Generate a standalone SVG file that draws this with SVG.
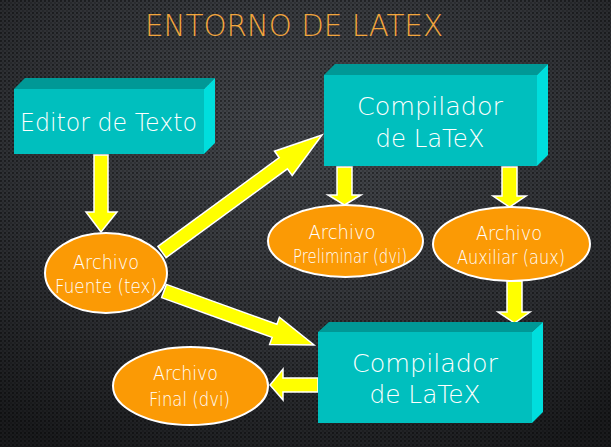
<svg xmlns="http://www.w3.org/2000/svg" width="611" height="447" viewBox="0 0 611 447">
<defs>
<radialGradient id="bg" cx="50%" cy="30%" r="80%">
<stop offset="0" stop-color="#46494e"/>
<stop offset="0.6" stop-color="#303236"/>
<stop offset="1" stop-color="#1a1b1d"/>
</radialGradient>
<pattern id="dots" width="4" height="4" patternUnits="userSpaceOnUse">
<circle cx="1" cy="1" r="1.1" fill="#000" fill-opacity="0.45"/>
<circle cx="3" cy="3" r="0.9" fill="#000" fill-opacity="0.25"/>
</pattern>
<style>
.front{fill:#00bfbe}
.top{fill:#009896}
.side{fill:#00dedd}
.ell{fill:#fb9a05;stroke:#ffffff;stroke-width:2}
.arr{fill:#ffff00;stroke:#ffffff;stroke-width:1.5;stroke-linejoin:miter}
.bt{font-family:"DejaVu Sans","Liberation Sans",sans-serif;font-weight:200;fill:#ffffff;font-size:25px;text-anchor:middle}
.et{font-family:"DejaVu Sans","Liberation Sans",sans-serif;font-weight:200;fill:#ffffff;font-size:19px;text-anchor:middle}
.title{font-family:"DejaVu Sans","Liberation Sans",sans-serif;font-weight:200;fill:#f2a53c;font-size:30px}
</style>
</defs>
<rect width="611" height="447" fill="url(#bg)"/>
<rect width="611" height="447" fill="url(#dots)"/>
<text class="title" x="145" y="36" textLength="298" lengthAdjust="spacingAndGlyphs">ENTORNO DE LATEX</text>

<g id="connectors">
<polygon class="arr" points="94,155 108,155 108,212 117,212 101,232 86,212 94,212"/>
<polygon class="arr" points="157.9,246.4 279.2,157.7 274.5,151.2 322,135 292.2,175.4 287.4,168.9 166.1,257.6"/>
<polygon class="arr" points="166.4,284.4 276.9,324.2 279.4,317.2 314,345 269.6,344.4 272.1,337.4 161.6,297.6"/>
<polygon class="arr" points="337,167 352,167 352,195 361,195 344.5,205 328,195 337,195"/>
<polygon class="arr" points="502,167 517,167 517,196 526,196 509.5,207 493,196 502,196"/>
<polygon class="arr" points="507,281 522,281 522,312 530,312 514.5,323 498,312 507,312"/>
<polygon class="arr" points="318,378 318,392 283,392 283,400 270,385 283,369 283,378"/>
</g>

<g id="editor">
<polygon class="top" points="14,89 25,78 215,78 204,89"/>
<polygon class="side" points="204,89 215,78 215,143 204,154"/>
<rect class="front" x="14" y="89" width="190" height="65"/>
<text class="bt" x="108.5" y="131" font-size="26" textLength="177" lengthAdjust="spacingAndGlyphs">Editor de Texto</text>
</g>

<g id="compilador1">
<polygon class="top" points="324,75 335,64 548,64 537,75"/>
<polygon class="side" points="537,75 548,64 548,155 537,166"/>
<rect class="front" x="324" y="75" width="213" height="91"/>
<text class="bt" x="430" y="115" textLength="146" lengthAdjust="spacingAndGlyphs">Compilador</text>
<text class="bt" x="430" y="147" textLength="109" lengthAdjust="spacingAndGlyphs">de LaTeX</text>
</g>

<g id="compilador2">
<polygon class="top" points="318,332 329,322 543,322 532,332"/>
<polygon class="side" points="532,332 543,322 543,412 532,423"/>
<rect class="front" x="318" y="332" width="214" height="91"/>
<text class="bt" x="425" y="372" textLength="146" lengthAdjust="spacingAndGlyphs">Compilador</text>
<text class="bt" x="425" y="403" textLength="111" lengthAdjust="spacingAndGlyphs">de LaTeX</text>
</g>

<g id="fuente">
<ellipse class="ell" cx="106" cy="273" rx="61" ry="40"/>
<text class="et" x="106" y="269" textLength="66" lengthAdjust="spacingAndGlyphs">Archivo</text>
<text class="et" x="106" y="293" textLength="102" lengthAdjust="spacingAndGlyphs">Fuente (tex)</text>
</g>

<g id="preliminar">
<ellipse class="ell" cx="345.5" cy="241" rx="77.5" ry="36"/>
<text class="et" x="342" y="239" textLength="67" lengthAdjust="spacingAndGlyphs">Archivo</text>
<text class="et" x="350" y="263" textLength="114" lengthAdjust="spacingAndGlyphs">Preliminar (dvi)</text>
</g>

<g id="auxiliar">
<ellipse class="ell" cx="511.5" cy="244" rx="78.5" ry="37"/>
<text class="et" x="509" y="240" textLength="66" lengthAdjust="spacingAndGlyphs">Archivo</text>
<text class="et" x="511" y="264" textLength="108" lengthAdjust="spacingAndGlyphs">Auxiliar (aux)</text>
</g>

<g id="final">
<ellipse class="ell" cx="190.5" cy="386" rx="77.5" ry="39"/>
<text class="et" x="185.5" y="380" textLength="65" lengthAdjust="spacingAndGlyphs">Archivo</text>
<text class="et" x="189.5" y="406" textLength="81" lengthAdjust="spacingAndGlyphs">Final (dvi)</text>
</g>
</svg>
